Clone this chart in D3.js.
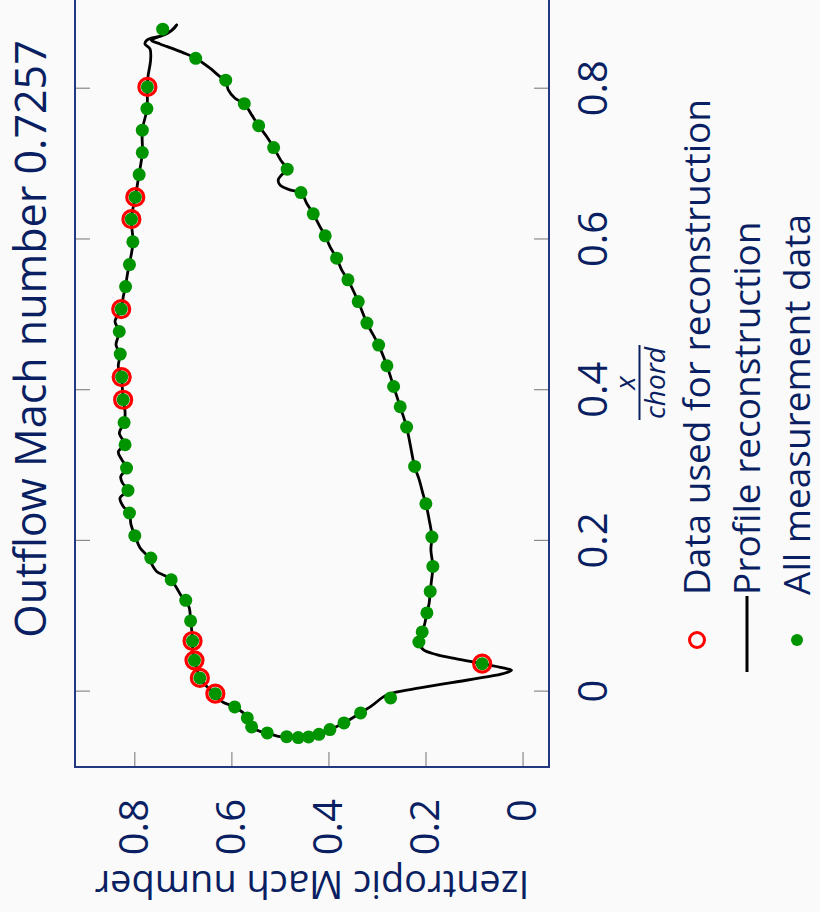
<!DOCTYPE html>
<html>
<head>
<meta charset="utf-8">
<script src="https://cdn.jsdelivr.net/npm/d3@7"></script>
<style>
  html, body { margin: 0; padding: 0; background: #fafafa; }
  svg { display: block; }
  text { font-family: "Open Sans", "Noto Sans", sans-serif; }
</style>
</head>
<body>
<svg id="chart" width="820" height="912"></svg>
<script>
// ---- data -------------------------------------------------------------
const titleText = "Outflow Mach number 0.7257";
const xTicks = [0, 0.2, 0.4, 0.6, 0.8];
const yTicks = [0, 0.2, 0.4, 0.6, 0.8];
const xLabelTop = "x";
const xLabelBottom = "chord";
const yLabel = "Izentropic Mach number";
const legendLabels = ["Data used for reconstruction", "Profile reconstruction", "All measurement data"];

// all measured isentropic Mach numbers (suction side, trailing edge, pressure side, leading edge)
const measX = [-0.0027, 0.0182, 0.0415, 0.0672, 0.0938, 0.1211, 0.1485, 0.1773, 0.2069, 0.237,
  0.267, 0.2967, 0.3276, 0.357, 0.3873, 0.4174, 0.4479, 0.4779, 0.5076, 0.5375,
  0.5667, 0.5968, 0.6269, 0.6561, 0.6861, 0.7153, 0.745, 0.7736, 0.8024,
  0.879,
  0.8404, 0.8113, 0.7802, 0.751, 0.7219, 0.6932, 0.6622, 0.634, 0.6048, 0.5752,
  0.5464, 0.5176, 0.489, 0.4598, 0.4324, 0.4049, 0.378, 0.351, 0.2988, 0.2493,
  0.2052, 0.1662, 0.133, 0.1044, 0.0792, 0.0659, 0.0371,
  -0.0084, -0.0282, -0.0415, -0.0504, -0.0566, -0.0601, -0.061, -0.0597, -0.0548, -0.0468,
  -0.0349, -0.0203];
const measY = [0.633, 0.665, 0.676, 0.680, 0.684, 0.694, 0.724, 0.766, 0.799, 0.810,
  0.813, 0.816, 0.819, 0.821, 0.823, 0.826, 0.829, 0.831, 0.827, 0.818,
  0.810, 0.803, 0.806, 0.798, 0.790, 0.7835, 0.7835, 0.774, 0.773,
  0.7415,
  0.6735, 0.6117, 0.5734, 0.5438, 0.5129, 0.4849, 0.4566, 0.4313, 0.4066, 0.3831,
  0.3598, 0.3386, 0.3207, 0.2966, 0.2795, 0.2657, 0.2521, 0.2389, 0.2224, 0.1992,
  0.1868, 0.1848, 0.1903, 0.1971, 0.2068, 0.2136, 0.0832,
  0.2719, 0.3337, 0.368, 0.397, 0.4196, 0.4408, 0.4622, 0.4861, 0.526, 0.5582,
  0.5672, 0.5932];

// subset of measurements fed to the reconstruction
const usedX = [-0.0027, 0.0182, 0.0415, 0.0672, 0.3873, 0.4174, 0.5076, 0.6269, 0.6561, 0.8024, 0.0371];
const usedY = [0.633, 0.665, 0.676, 0.680, 0.823, 0.826, 0.827, 0.806, 0.798, 0.773, 0.0832];

// reconstructed Mach distribution around the blade (closed contour)
const profX = [0.8846, 0.8767, 0.8707, 0.8660, 0.8641, 0.8594, 0.8558, 0.8479, 0.8404, 0.8272,
  0.8161, 0.8113, 0.7984, 0.7874, 0.7802, 0.7653, 0.7511, 0.7365, 0.7219, 0.7033,
  0.6932, 0.6857, 0.6790, 0.6724, 0.6658, 0.6622, 0.6481, 0.6340, 0.6171, 0.6048,
  0.5906, 0.5752, 0.5597, 0.5464, 0.5176, 0.4890, 0.4598, 0.4324, 0.4049, 0.3780,
  0.3511, 0.3298, 0.2988, 0.2812, 0.2613, 0.2493, 0.2281, 0.2052, 0.1883, 0.1662,
  0.1485, 0.1330, 0.1176, 0.1044, 0.0911, 0.0792, 0.0659, 0.0557, 0.0491, 0.0434,
  0.0371, 0.0314, 0.0282, 0.0239, 0.0195, 0.0123, 0.0049, -0.0017, -0.0073, -0.0186,
  -0.0282, -0.0415, -0.0504, -0.0566, -0.0601, -0.0610, -0.0597, -0.0593, -0.0548, -0.0527,
  -0.0468, -0.0349, -0.0282, -0.0203, -0.0129, -0.0027, 0.0049, 0.0182, 0.0415, 0.0534,
  0.0672, 0.0938, 0.1110, 0.1211, 0.1264, 0.1375, 0.1485, 0.1538, 0.1595, 0.1711,
  0.1777, 0.1910, 0.2069, 0.2215, 0.2370, 0.2458, 0.2569, 0.2670, 0.2772, 0.2855,
  0.2967, 0.3077, 0.3187, 0.3276, 0.3431, 0.3572, 0.3718, 0.3873, 0.4028, 0.4174,
  0.4314, 0.4479, 0.4602, 0.4779, 0.4911, 0.5076, 0.5243, 0.5375, 0.5531, 0.5667,
  0.5968, 0.6269, 0.6561, 0.6861, 0.7153, 0.7450, 0.7736, 0.8024, 0.8161, 0.8382,
  0.8528, 0.8594, 0.8641, 0.8674, 0.8694, 0.8740, 0.8800, 0.8846];
const profY = [0.7127, 0.7244, 0.7429, 0.7615, 0.7646, 0.7471, 0.7318, 0.6997, 0.6735, 0.6441,
  0.6235, 0.6117, 0.6064, 0.5926, 0.5734, 0.5582, 0.5438, 0.5273, 0.5129, 0.4964,
  0.4849, 0.4964, 0.5034, 0.4999, 0.4793, 0.4566, 0.4449, 0.4313, 0.4175, 0.4066,
  0.3969, 0.3831, 0.3728, 0.3598, 0.3386, 0.3207, 0.2966, 0.2795, 0.2657, 0.2521,
  0.2389, 0.2321, 0.2224, 0.2130, 0.2047, 0.1992, 0.1924, 0.1868, 0.1889, 0.1848,
  0.1874, 0.1903, 0.1924, 0.1971, 0.2012, 0.2068, 0.2136, 0.2047, 0.1771, 0.1359,
  0.0832, 0.0400, 0.0227, 0.0400, 0.0742, 0.1429, 0.2115, 0.2665, 0.2877, 0.3104,
  0.3337, 0.3681, 0.3969, 0.4196, 0.4408, 0.4622, 0.4861, 0.5034, 0.5261, 0.5411,
  0.5582, 0.5672, 0.5755, 0.5932, 0.6200, 0.6332, 0.6476, 0.6647, 0.6756, 0.6797,
  0.6797, 0.6838, 0.6867, 0.6941, 0.7024, 0.7127, 0.7244, 0.7368, 0.7539, 0.7656,
  0.7697, 0.7883, 0.7986, 0.8068, 0.8103, 0.8227, 0.8295, 0.8130, 0.8247, 0.8280,
  0.8157, 0.8259, 0.8330, 0.8191, 0.8309, 0.8206, 0.8191, 0.8227, 0.8247, 0.8260,
  0.8330, 0.8295, 0.8377, 0.8309, 0.8398, 0.8268, 0.8227, 0.8181, 0.8144, 0.8103,
  0.8027, 0.8062, 0.7979, 0.7903, 0.7835, 0.7835, 0.7738, 0.7732, 0.7718, 0.7664,
  0.7677, 0.7780, 0.7749, 0.7635, 0.7471, 0.7306, 0.7182, 0.7127];

// ---- layout (chart is laid out landscape, then turned a quarter turn) ----
const W = 912, H = 820;
const textColor = "#0a1f62";
const frameColor = "#22387f";
const tickColor = "#8a8a8a";
const plot = { left: 145, right: 974, top: 75, bottom: 549 };

const x = d3.scaleLinear().domain([-0.1, 1.0]).range([plot.left, plot.right]);
const y = d3.scaleLinear().domain([-0.0545, 0.9222]).range([plot.bottom, plot.top]);

const svg = d3.select("#chart");
svg.append("rect").attr("width", 820).attr("height", 912).attr("fill", "#fafafa");

const g = svg.append("g").attr("transform", `translate(0,${W}) rotate(-90)`);

g.append("defs").append("clipPath").attr("id", "plotClip")
  .append("rect")
  .attr("x", plot.left).attr("y", plot.top)
  .attr("width", plot.right - plot.left).attr("height", plot.bottom - plot.top);

// ticks on all four sides, pointing inward
const tickLen = 15;
const fmt = v => v === 0 ? "0" : d3.format(".1f")(v);

const axB = g.append("g").attr("transform", `translate(0,${plot.bottom})`)
  .call(d3.axisBottom(x).tickValues(xTicks).tickSizeInner(-tickLen).tickSizeOuter(0).tickPadding(tickLen + 15).tickFormat(fmt));
const axT = g.append("g").attr("transform", `translate(0,${plot.top})`)
  .call(d3.axisTop(x).tickValues(xTicks).tickSizeInner(-tickLen).tickSizeOuter(0).tickFormat(""));
const axL = g.append("g").attr("transform", `translate(${plot.left},0)`)
  .call(d3.axisLeft(y).tickValues(yTicks).tickSizeInner(-tickLen).tickSizeOuter(0).tickPadding(tickLen + 17).tickFormat(fmt));
const axR = g.append("g").attr("transform", `translate(${plot.right},0)`)
  .call(d3.axisRight(y).tickValues(yTicks).tickSizeInner(-tickLen).tickSizeOuter(0).tickFormat(""));

[axB, axT, axL, axR].forEach(a => {
  a.select(".domain").remove();
  a.selectAll(".tick line").attr("stroke", tickColor).attr("stroke-width", 1.2);
  a.selectAll(".tick text").attr("fill", textColor).attr("font-size", 40)
    .attr("font-family", "'Open Sans', sans-serif");
});
axB.selectAll(".tick text").attr("dy", "0.71em");

// frame
g.append("rect")
  .attr("x", plot.left).attr("y", plot.top)
  .attr("width", plot.right - plot.left).attr("height", plot.bottom - plot.top)
  .attr("fill", "none").attr("stroke", frameColor).attr("stroke-width", 2);

// data layer
const dataLayer = g.append("g").attr("clip-path", "url(#plotClip)");

const profile = d3.range(profX.length).map(i => [profX[i], profY[i]]);
const line = d3.line().x(d => x(d[0])).y(d => y(d[1])).curve(d3.curveCatmullRom.alpha(0.5));
dataLayer.append("path").datum(profile)
  .attr("d", line).attr("fill", "none")
  .attr("stroke", "#000").attr("stroke-width", 2.8)
  .attr("stroke-linejoin", "round").attr("stroke-linecap", "round");

dataLayer.selectAll("circle.used").data(d3.range(usedX.length)).join("circle")
  .attr("class", "used")
  .attr("cx", i => x(usedX[i])).attr("cy", i => y(usedY[i])).attr("r", 8.5)
  .attr("fill", "none").attr("stroke", "#ff0000").attr("stroke-width", 3.2);

dataLayer.selectAll("circle.meas").data(d3.range(measX.length)).join("circle")
  .attr("class", "meas")
  .attr("cx", i => x(measX[i])).attr("cy", i => y(measY[i])).attr("r", 6.5)
  .attr("fill", "#009400");

// title
g.append("text").attr("x", 573).attr("y", 46)
  .attr("text-anchor", "middle").attr("font-size", 43).attr("fill", textColor)
  .text(titleText);

// x-axis label as a fraction
const fx = 529;
g.append("text").attr("x", fx).attr("y", 635).attr("text-anchor", "middle")
  .attr("font-size", 28).attr("font-style", "italic").attr("fill", textColor).text(xLabelTop);
g.append("line").attr("x1", fx - 37).attr("x2", fx + 38).attr("y1", 639.5).attr("y2", 639.5)
  .attr("stroke", textColor).attr("stroke-width", 2);
g.append("text").attr("x", fx).attr("y", 665).attr("text-anchor", "middle")
  .attr("font-size", 28).attr("font-style", "italic").attr("fill", textColor).text(xLabelBottom);

// y-axis label
g.append("text").attr("transform", `translate(41,312) rotate(-90)`)
  .attr("text-anchor", "middle").attr("font-size", 38).attr("fill", textColor)
  .text(yLabel);

// legend
const legRows = [697, 747, 797];
const legMarkX = 272, legTextX = 317;
g.append("circle").attr("cx", legMarkX).attr("cy", legRows[0]).attr("r", 7.5)
  .attr("fill", "none").attr("stroke", "#ff0000").attr("stroke-width", 3);
g.append("line").attr("x1", 240).attr("x2", 316).attr("y1", legRows[1]).attr("y2", legRows[1])
  .attr("stroke", "#000").attr("stroke-width", 3);
g.append("circle").attr("cx", legMarkX).attr("cy", legRows[2]).attr("r", 6)
  .attr("fill", "#009400");
legendLabels.forEach((t, i) => {
  g.append("text").attr("x", legTextX).attr("y", legRows[i] + 13)
    .attr("font-size", 37).attr("fill", textColor).text(t);
});
</script>
</body>
</html>
